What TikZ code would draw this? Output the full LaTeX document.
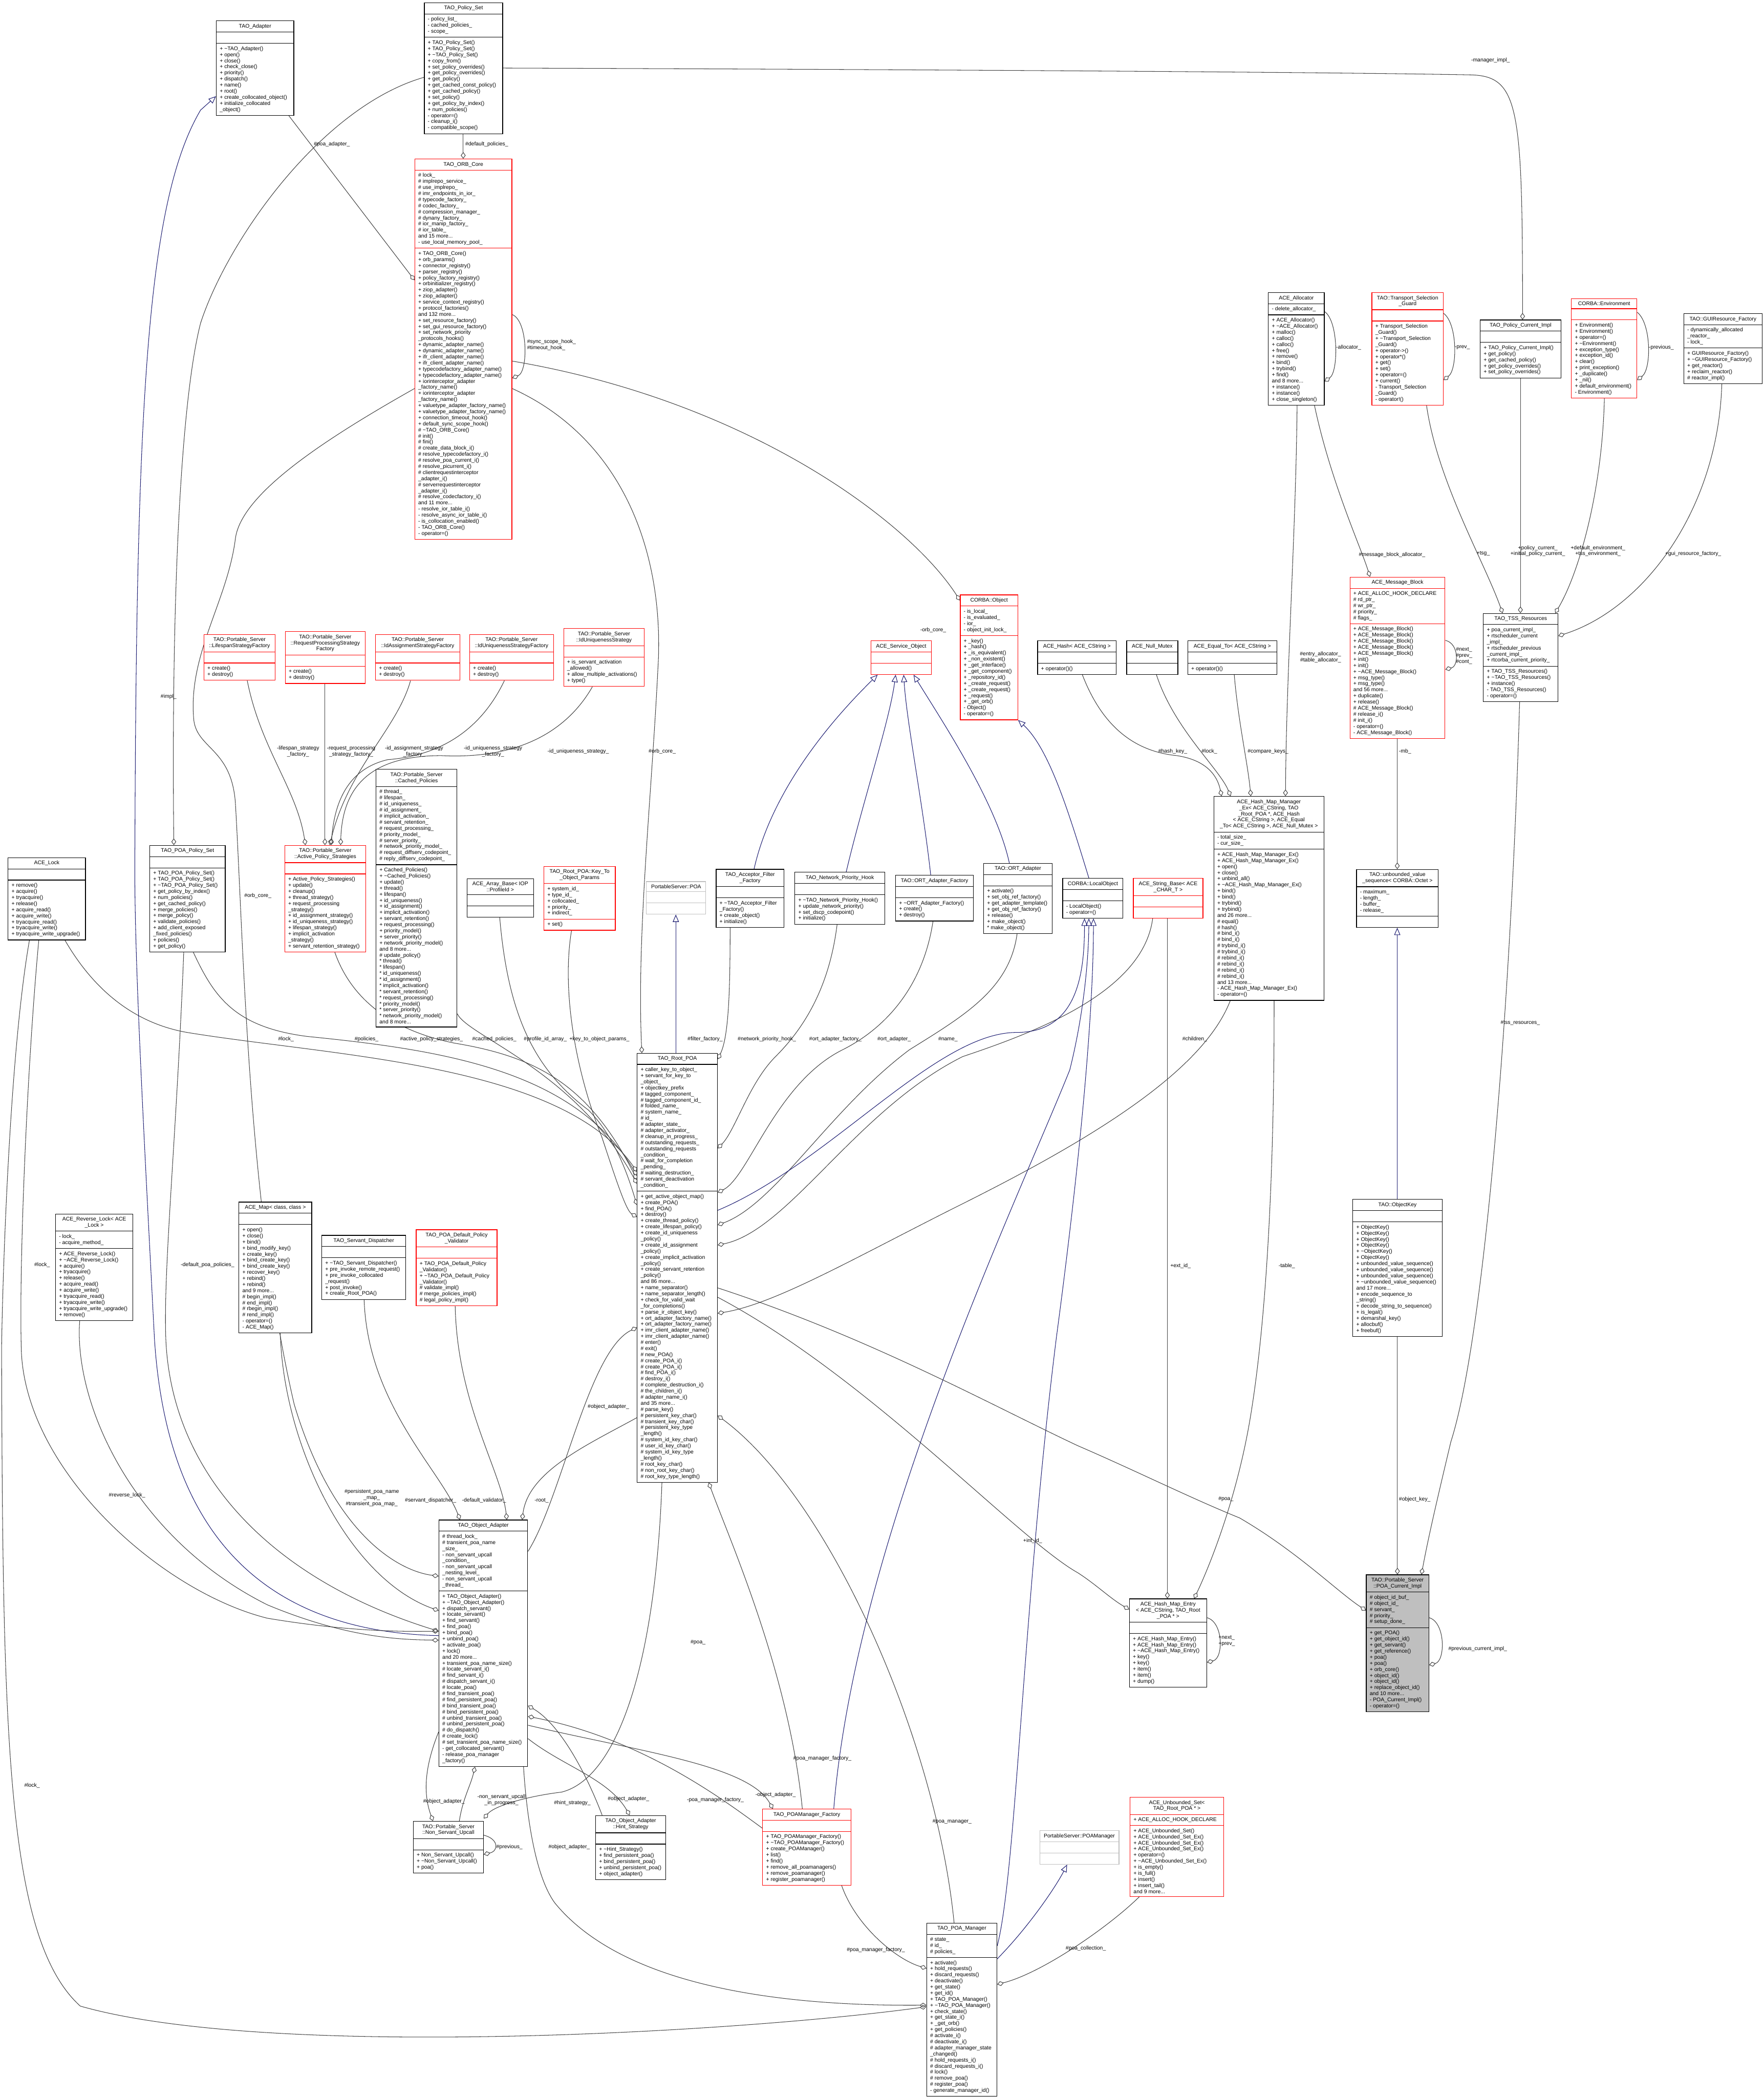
\documentclass[tikz,border=0pt]{standalone}
\usepackage{fontspec}
\setmainfont{Liberation Sans}
\usetikzlibrary{shapes.multipart,arrows.meta,calc}
\definecolor{edgec}{HTML}{404040}
\definecolor{inhc}{HTML}{191970}
\definecolor{redc}{HTML}{FF0000}
\definecolor{greyb}{HTML}{BFBFBF}
\pgfdeclarelayer{bg}
\pgfsetlayers{bg,main}
\newcommand\ez{\rule[-0.84pt]{0pt}{3.76pt}}
\newcommand\tld{\textasciitilde}
\newcommand\ttl[1]{\vbox{\halign{\hfil##\hfil\cr#1\crcr}}}
\tikzset{
  cls/.style={rectangle split, rectangle split parts=3, draw=black, line width=0.45pt, fill=white,
    inner xsep=2.6pt, inner ysep=2.1pt, anchor=north west,
    rectangle split part align={center,left,left}, align=left,
    font=\fontsize{4}{4.55}\selectfont},
  rcls/.style={cls, draw=redc},
  gcls/.style={cls, draw=greyb},
  comp/.style={draw=edgec, line width=0.4pt, -{Diamond[open,length=5pt,width=3.6pt]}},
  inh/.style={draw=inhc, line width=0.4pt, -{Triangle[open,length=5.5pt,width=4.6pt]}},
  lbl/.style={font=\fontsize{4}{4.55}\selectfont, inner sep=0pt, anchor=west, align=left},
  lblc/.style={lbl, anchor=center, align=center},
}
\begin{document}
\catcode`\_=12
\begin{tikzpicture}[x=1pt,y=-1pt]
\begin{pgfonlayer}{bg}
\fill[white] (0,0) rectangle (1319,1568);
\end{pgfonlayer}
\useasboundingbox (0,0) rectangle (1319,1568);

% ---------------- classes ----------------
\node[cls, minimum width=58] (ad) at (161.5,15.4) {TAO_Adapter\nodepart{second}\ez\nodepart{third}+ \tld TAO_Adapter()\\+ open()\\+ close()\\+ check_close()\\+ priority()\\+ dispatch()\\+ name()\\+ root()\\+ create_collocated_object()\\+ initialize_collocated\\_object()};

\node[cls, minimum width=58.6] (ps) at (317.1,1.8) {TAO_Policy_Set\nodepart{second}- policy_list_\\- cached_policies_\\- scope_\nodepart{third}+ TAO_Policy_Set()\\+ TAO_Policy_Set()\\+ \tld TAO_Policy_Set()\\+ copy_from()\\+ set_policy_overrides()\\+ get_policy_overrides()\\+ get_policy()\\+ get_cached_const_policy()\\+ get_cached_policy()\\+ set_policy()\\+ get_policy_by_index()\\+ num_policies()\\- operator=()\\- cleanup_i()\\- compatible_scope()};

\node[rcls, minimum width=72.6] (orb) at (310,118.7) {TAO_ORB_Core\nodepart{second}\# lock_\\\# implrepo_service_\\\# use_implrepo_\\\# imr_endpoints_in_ior_\\\# typecode_factory_\\\# codec_factory_\\\# compression_manager_\\\# dynany_factory_\\\# ior_manip_factory_\\\# ior_table_\\and 15 more...\\- use_local_memory_pool_\nodepart{third}+ TAO_ORB_Core()\\+ orb_params()\\+ connector_registry()\\+ parser_registry()\\+ policy_factory_registry()\\+ orbinitializer_registry()\\+ ziop_adapter()\\+ ziop_adapter()\\+ service_context_registry()\\+ protocol_factories()\\and 132 more...\\+ set_resource_factory()\\+ set_gui_resource_factory()\\+ set_network_priority\\_protocols_hooks()\\+ dynamic_adapter_name()\\+ dynamic_adapter_name()\\+ ifr_client_adapter_name()\\+ ifr_client_adapter_name()\\+ typecodefactory_adapter_name()\\+ typecodefactory_adapter_name()\\+ iorinterceptor_adapter\\_factory_name()\\+ iorinterceptor_adapter\\_factory_name()\\+ valuetype_adapter_factory_name()\\+ valuetype_adapter_factory_name()\\+ connection_timeout_hook()\\+ default_sync_scope_hook()\\\# \tld TAO_ORB_Core()\\\# init()\\\# fini()\\\# create_data_block_i()\\\# resolve_typecodefactory_i()\\\# resolve_poa_current_i()\\\# resolve_picurrent_i()\\\# clientrequestinterceptor\\_adapter_i()\\\# serverrequestinterceptor\\_adapter_i()\\\# resolve_codecfactory_i()\\and 11 more...\\- resolve_ior_table_i()\\- resolve_async_ior_table_i()\\- is_collocation_enabled()\\- TAO_ORB_Core()\\- operator=()};

\node[cls, minimum width=41.8] (alloc) at (948.3,218.5) {ACE_Allocator\nodepart{second}- delete_allocator_\nodepart{third}+ ACE_Allocator()\\+ \tld ACE_Allocator()\\+ malloc()\\+ calloc()\\+ calloc()\\+ free()\\+ remove()\\+ bind()\\+ trybind()\\+ find()\\and 8 more...\\+ instance()\\+ instance()\\+ close_singleton()};

\node[rcls, minimum width=53.4] (tsg) at (1025.7,218.5) {\ttl{TAO::Transport_Selection\cr _Guard}\nodepart{second}\ez\nodepart{third}+ Transport_Selection\\_Guard()\\+ \tld Transport_Selection\\_Guard()\\+ operator->()\\+ operator*()\\+ get()\\+ set()\\+ operator=()\\+ current()\\- Transport_Selection\\_Guard()\\- operator!()};

\node[cls, minimum width=60.4] (pci) at (1106.7,239) {TAO_Policy_Current_Impl\nodepart{second}\ez\nodepart{third}+ TAO_Policy_Current_Impl()\\+ get_policy()\\+ get_cached_policy()\\+ get_policy_overrides()\\+ set_policy_overrides()};

\node[rcls, minimum width=49] (env) at (1174.9,223) {CORBA::Environment\nodepart{second}\ez\nodepart{third}+ Environment()\\+ Environment()\\+ operator=()\\+ \tld Environment()\\+ exception_type()\\+ exception_id()\\+ clear()\\+ print_exception()\\+ _duplicate()\\+ _nil()\\+ default_environment()\\- Environment()};

\node[cls, minimum width=58.5] (gui) at (1259,234.3) {TAO::GUIResource_Factory\nodepart{second}- dynamically_allocated\\_reactor_\\- lock_\nodepart{third}+ GUIResource_Factory()\\+ \tld GUIResource_Factory()\\+ get_reactor()\\+ reclaim_reactor()\\\# reactor_impl()};

\node[rcls, minimum width=43] (obj) at (717.9,444.6) {CORBA::Object\nodepart{second}- is_local_\\- is_evaluated_\\- ior_\\- object_init_lock_\nodepart{third}+ _key()\\+ _hash()\\+ _is_equivalent()\\+ _non_existent()\\+ _get_interface()\\+ _get_component()\\+ _repository_id()\\+ _create_request()\\+ _create_request()\\+ _request()\\+ _get_orb()\\- Object()\\- operator=()};

\node[rcls, minimum width=45.4] (svc) at (651,478.9) {ACE_Service_Object\nodepart{second}\ez\nodepart{third}\ez};
\node[cls, minimum width=58.8] (hash) at (775.7,478.9) {ACE_Hash< ACE_CString >\nodepart{second}\ez\nodepart{third}+ operator()()};
\node[cls, minimum width=38.3] (mutex) at (842.3,478.9) {ACE_Null_Mutex\nodepart{second}\ez\nodepart{third}\ez};
\node[cls, minimum width=66.6] (eq) at (888,478.9) {ACE_Equal_To< ACE_CString >\nodepart{second}\ez\nodepart{third}+ operator()()};

\node[rcls, minimum width=71.1] (mb) at (1009.3,431.3) {ACE_Message_Block\nodepart{second}+ ACE_ALLOC_HOOK_DECLARE\\\# rd_ptr_\\\# wr_ptr_\\\# priority_\\\# flags_\nodepart{third}+ ACE_Message_Block()\\+ ACE_Message_Block()\\+ ACE_Message_Block()\\+ ACE_Message_Block()\\+ ACE_Message_Block()\\+ init()\\+ init()\\+ \tld ACE_Message_Block()\\+ msg_type()\\+ msg_type()\\and 56 more...\\+ duplicate()\\+ release()\\\# ACE_Message_Block()\\\# release_i()\\\# init_i()\\- operator=()\\- ACE_Message_Block()};

\node[cls, minimum width=55.8] (tss) at (1109.1,458.5) {TAO_TSS_Resources\nodepart{second}+ poa_current_impl_\\+ rtscheduler_current\\_impl_\\+ rtscheduler_previous\\_current_impl_\\+ rtcorba_current_priority_\nodepart{third}+ TAO_TSS_Resources()\\+ \tld TAO_TSS_Resources()\\+ instance()\\- TAO_TSS_Resources()\\- operator=()};

\node[rcls, minimum width=53.2] (lsf) at (152.3,474.2) {\ttl{TAO::Portable_Server\cr ::LifespanStrategyFactory}\nodepart{second}\ez\nodepart{third}+ create()\\+ destroy()};
\node[rcls, minimum width=59.8] (rpf) at (213.1,472) {\ttl{TAO::Portable_Server\cr ::RequestProcessingStrategy\cr Factory}\nodepart{second}\ez\nodepart{third}+ create()\\+ destroy()};
\node[rcls, minimum width=63.1] (iaf) at (280.6,474.2) {\ttl{TAO::Portable_Server\cr ::IdAssignmentStrategyFactory}\nodepart{second}\ez\nodepart{third}+ create()\\+ destroy()};
\node[rcls, minimum width=62.8] (iuf) at (350.9,474.2) {\ttl{TAO::Portable_Server\cr ::IdUniquenessStrategyFactory}\nodepart{second}\ez\nodepart{third}+ create()\\+ destroy()};
\node[rcls, minimum width=60.3] (ius) at (421.3,469.7) {\ttl{TAO::Portable_Server\cr ::IdUniquenessStrategy}\nodepart{second}\ez\nodepart{third}+ is_servant_activation\\_allowed()\\+ allow_multiple_activations()\\+ type()};

\node[rcls, minimum width=60.7] (aps) at (212.7,631.9) {\ttl{TAO::Portable_Server\cr ::Active_Policy_Strategies}\nodepart{second}\ez\nodepart{third}+ Active_Policy_Strategies()\\+ update()\\+ cleanup()\\+ thread_strategy()\\+ request_processing\\_strategy()\\+ id_assignment_strategy()\\+ id_uniqueness_strategy()\\+ lifespan_strategy()\\+ implicit_activation\\_strategy()\\+ servant_retention_strategy()};

\node[cls, minimum width=60.5] (cp) at (281,575) {\ttl{TAO::Portable_Server\cr ::Cached_Policies}\nodepart{second}\# thread_\\\# lifespan_\\\# id_uniqueness_\\\# id_assignment_\\\# implicit_activation_\\\# servant_retention_\\\# request_processing_\\\# priority_model_\\\# server_priority_\\\# network_priority_model_\\\# request_diffserv_codepoint_\\\# reply_diffserv_codepoint_\nodepart{third}+ Cached_Policies()\\+ \tld Cached_Policies()\\+ update()\\+ thread()\\+ lifespan()\\+ id_uniqueness()\\+ id_assignment()\\+ implicit_activation()\\+ servant_retention()\\+ request_processing()\\+ priority_model()\\+ server_priority()\\+ network_priority_model()\\and 8 more...\\\# update_policy()\\* thread()\\* lifespan()\\* id_uniqueness()\\* id_assignment()\\* implicit_activation()\\* servant_retention()\\* request_processing()\\* priority_model()\\* server_priority()\\* network_priority_model()\\and 8 more...};

\node[cls, minimum width=49.6] (arr) at (349.1,656.8) {\ttl{ACE_Array_Base< IOP\cr ::ProfileId >}\nodepart{second}\ez\nodepart{third}\ez};
\node[rcls, minimum width=53.4] (kto) at (406.5,647.6) {\ttl{TAO_Root_POA::Key_To\cr _Object_Params}\nodepart{second}+ system_id_\\+ type_id_\\+ collocated_\\+ priority_\\+ indirect_\nodepart{third}+ set()};

\node[cls, minimum width=56.4] (pps) at (111.8,631.9) {TAO_POA_Policy_Set\nodepart{second}\ez\nodepart{third}+ TAO_POA_Policy_Set()\\+ TAO_POA_Policy_Set()\\+ \tld TAO_POA_Policy_Set()\\+ get_policy_by_index()\\+ num_policies()\\+ get_cached_policy()\\+ merge_policies()\\+ merge_policy()\\+ validate_policies()\\+ add_client_exposed\\_fixed_policies()\\+ policies()\\+ get_policy()};

\node[cls, minimum width=57.9] (lock) at (5.8,641.1) {ACE_Lock\nodepart{second}\ez\nodepart{third}+ remove()\\+ acquire()\\+ tryacquire()\\+ release()\\+ acquire_read()\\+ acquire_write()\\+ tryacquire_read()\\+ tryacquire_write()\\+ tryacquire_write_upgrade()};

\node[gcls, minimum width=44.4] (poa) at (483.2,659) {PortableServer::POA\nodepart{second}\ez\nodepart{third}\ez};
\node[cls, minimum width=50.8] (aff) at (535.3,649.8) {\ttl{TAO_Acceptor_Filter\cr _Factory}\nodepart{second}\ez\nodepart{third}+ \tld TAO_Acceptor_Filter\\_Factory()\\+ create_object()\\+ initialize()};
\node[cls, minimum width=67.2] (nph) at (594.2,652) {TAO_Network_Priority_Hook\nodepart{second}\ez\nodepart{third}+ \tld TAO_Network_Priority_Hook()\\+ update_network_priority()\\+ set_dscp_codepoint()\\+ initialize()};
\node[cls, minimum width=58.2] (oaf) at (669.5,654.2) {TAO::ORT_Adapter_Factory\nodepart{second}\ez\nodepart{third}+ \tld ORT_Adapter_Factory()\\+ create()\\+ destroy()};
\node[cls, minimum width=51.1] (ort) at (735.4,645.3) {TAO::ORT_Adapter\nodepart{second}\ez\nodepart{third}+ activate()\\+ set_obj_ref_factory()\\+ get_adapter_template()\\+ get_obj_ref_factory()\\+ release()\\+ make_object()\\* make_object()};
\node[cls, minimum width=45.1] (lo) at (794.5,656.6) {CORBA::LocalObject\nodepart{second}\ez\nodepart{third}- LocalObject()\\- operator=()};
\node[rcls, minimum width=52.1] (sb) at (847.3,656.6) {\ttl{ACE_String_Base< ACE\cr _CHAR_T >}\nodepart{second}\ez\nodepart{third}\ez};

\node[cls, minimum width=82.3] (hmm) at (907.5,595.3) {\ttl{ACE_Hash_Map_Manager\cr _Ex< ACE_CString, TAO\cr _Root_POA *, ACE_Hash\cr < ACE_CString >, ACE_Equal\cr _To< ACE_CString >, ACE_Null_Mutex >}\nodepart{second}- total_size_\\- cur_size_\nodepart{third}+ ACE_Hash_Map_Manager_Ex()\\+ ACE_Hash_Map_Manager_Ex()\\+ open()\\+ close()\\+ unbind_all()\\+ \tld ACE_Hash_Map_Manager_Ex()\\+ bind()\\+ bind()\\+ trybind()\\+ trybind()\\and 26 more...\\\# equal()\\\# hash()\\\# bind_i()\\\# bind_i()\\\# trybind_i()\\\# trybind_i()\\\# rebind_i()\\\# rebind_i()\\\# rebind_i()\\\# rebind_i()\\and 13 more...\\- ACE_Hash_Map_Manager_Ex()\\- operator=()};

\node[cls, minimum width=61.2] (uvs) at (1014.2,649.9) {\ttl{TAO::unbounded_value\cr _sequence< CORBA::Octet >}\nodepart{second}- maximum_\\- length_\\- buffer_\\- release_\nodepart{third}\ez};

\node[cls, minimum width=60] (rp) at (476.3,787.4) {TAO_Root_POA\nodepart{second}+ caller_key_to_object_\\+ servant_for_key_to\\_object_\\+ objectkey_prefix\\\# tagged_component_\\\# tagged_component_id_\\\# folded_name_\\\# system_name_\\\# id_\\\# adapter_state_\\\# adapter_activator_\\\# cleanup_in_progress_\\\# outstanding_requests_\\\# outstanding_requests\\_condition_\\\# wait_for_completion\\_pending_\\\# waiting_destruction_\\\# servant_deactivation\\_condition_\nodepart{third}+ get_active_object_map()\\+ create_POA()\\+ find_POA()\\+ destroy()\\+ create_thread_policy()\\+ create_lifespan_policy()\\+ create_id_uniqueness\\_policy()\\+ create_id_assignment\\_policy()\\+ create_implicit_activation\\_policy()\\+ create_servant_retention\\_policy()\\and 86 more...\\+ name_separator()\\+ name_separator_length()\\+ check_for_valid_wait\\_for_completions()\\+ parse_ir_object_key()\\+ ort_adapter_factory_name()\\+ ort_adapter_factory_name()\\+ imr_client_adapter_name()\\+ imr_client_adapter_name()\\\# enter()\\\# exit()\\\# new_POA()\\\# create_POA_i()\\\# create_POA_i()\\\# find_POA_i()\\\# destroy_i()\\\# complete_destruction_i()\\\# the_children_i()\\\# adapter_name_i()\\and 35 more...\\\# parse_key()\\\# persistent_key_char()\\\# transient_key_char()\\\# persistent_key_type\\_length()\\\# system_id_key_char()\\\# user_id_key_char()\\\# system_id_key_type\\_length()\\\# root_key_char()\\\# non_root_key_char()\\\# root_key_type_length()};

\node[cls, minimum width=57.9] (rl) at (41.3,907.5) {\ttl{ACE_Reverse_Lock< ACE\cr _Lock >}\nodepart{second}- lock_\\- acquire_method_\nodepart{third}+ ACE_Reverse_Lock()\\+ \tld ACE_Reverse_Lock()\\+ acquire()\\+ tryacquire()\\+ release()\\+ acquire_read()\\+ acquire_write()\\+ tryacquire_read()\\+ tryacquire_write()\\+ tryacquire_write_upgrade()\\+ remove()};

\node[cls, minimum width=54.4] (map) at (178.5,898.6) {ACE_Map< class, class >\nodepart{second}\ez\nodepart{third}+ open()\\+ close()\\+ bind()\\+ bind_modify_key()\\+ create_key()\\+ bind_create_key()\\+ bind_create_key()\\+ recover_key()\\+ rebind()\\+ rebind()\\and 9 more...\\\# begin_impl()\\\# end_impl()\\\# rbegin_impl()\\\# rend_impl()\\- operator=()\\- ACE_Map()};

\node[cls, minimum width=62.8] (sd) at (240.4,923.5) {TAO_Servant_Dispatcher\nodepart{second}\ez\nodepart{third}+ \tld TAO_Servant_Dispatcher()\\+ pre_invoke_remote_request()\\+ pre_invoke_collocated\\_request()\\+ post_invoke()\\+ create_Root_POA()};

\node[rcls, minimum width=60.5] (pv) at (311,919.3) {\ttl{TAO_POA_Default_Policy\cr _Validator}\nodepart{second}\ez\nodepart{third}+ TAO_POA_Default_Policy\\_Validator()\\+ \tld TAO_POA_Default_Policy\\_Validator()\\\# validate_impl()\\\# merge_policies_impl()\\\# legal_policy_impl()};

\node[cls, minimum width=66.7] (ok) at (1011.5,896.6) {TAO::ObjectKey\nodepart{second}\ez\nodepart{third}+ ObjectKey()\\+ ObjectKey()\\+ ObjectKey()\\+ ObjectKey()\\+ \tld ObjectKey()\\+ ObjectKey()\\+ unbounded_value_sequence()\\+ unbounded_value_sequence()\\+ unbounded_value_sequence()\\+ \tld unbounded_value_sequence()\\and 17 more...\\+ encode_sequence_to\\_string()\\+ decode_string_to_sequence()\\+ is_legal()\\+ demarshal_key()\\+ allocbuf()\\+ freebuf()};

\node[cls, minimum width=66.4] (oa) at (328,1136.3) {TAO_Object_Adapter\nodepart{second}\# thread_lock_\\\# transient_poa_name\\_size_\\- non_servant_upcall\\_condition_\\- non_servant_upcall\\_nesting_level_\\- non_servant_upcall\\_thread_\nodepart{third}+ TAO_Object_Adapter()\\+ \tld TAO_Object_Adapter()\\+ dispatch_servant()\\+ locate_servant()\\+ find_servant()\\+ find_poa()\\+ bind_poa()\\+ unbind_poa()\\+ activate_poa()\\+ lock()\\and 20 more...\\+ transient_poa_name_size()\\\# locate_servant_i()\\\# find_servant_i()\\\# dispatch_servant_i()\\\# locate_poa()\\\# find_transient_poa()\\\# find_persistent_poa()\\\# bind_transient_poa()\\\# bind_persistent_poa()\\\# unbind_transient_poa()\\\# unbind_persistent_poa()\\\# do_dispatch()\\\# create_lock()\\\# set_transient_poa_name_size()\\- get_collocated_servant()\\- release_poa_manager\\_factory()};

\node[cls, minimum width=57.8] (hme) at (844.4,1195.3) {\ttl{ACE_Hash_Map_Entry\cr < ACE_CString, TAO_Root\cr _POA * >}\nodepart{second}\ez\nodepart{third}+ ACE_Hash_Map_Entry()\\+ ACE_Hash_Map_Entry()\\+ \tld ACE_Hash_Map_Entry()\\+ key()\\+ key()\\+ item()\\+ item()\\+ dump()};

\node[cls, fill=greyb, minimum width=46.8] (cur) at (1021.5,1177.3) {\ttl{TAO::Portable_Server\cr ::POA_Current_Impl}\nodepart{second}\# object_id_buf_\\\# object_id_\\\# servant_\\\# priority_\\\# setup_done_\nodepart{third}+ get_POA()\\+ get_object_id()\\+ get_servant()\\+ get_reference()\\+ poa()\\+ poa()\\+ orb_core()\\+ object_id()\\+ object_id()\\+ replace_object_id()\\and 10 more...\\- POA_Current_Impl()\\- operator=()};

\node[cls, minimum width=52.5] (nsu) at (308.8,1361.6) {\ttl{TAO::Portable_Server\cr ::Non_Servant_Upcall}\nodepart{second}\ez\nodepart{third}+ Non_Servant_Upcall()\\+ \tld Non_Servant_Upcall()\\+ poa()};
\node[cls, minimum width=52.5] (hs) at (445.2,1357.3) {\ttl{TAO_Object_Adapter\cr ::Hint_Strategy}\nodepart{second}\ez\nodepart{third}+ \tld Hint_Strategy()\\+ find_persistent_poa()\\+ bind_persistent_poa()\\+ unbind_persistent_poa()\\+ object_adapter()};
\node[rcls, minimum width=66] (pmf) at (570.1,1352.5) {TAO_POAManager_Factory\nodepart{second}\ez\nodepart{third}+ TAO_POAManager_Factory()\\+ \tld TAO_POAManager_Factory()\\+ create_POAManager()\\+ list()\\+ find()\\+ remove_all_poamanagers()\\+ remove_poamanager()\\+ register_poamanager()};
\node[gcls, minimum width=59.3] (psm) at (777.3,1368.6) {PortableServer::POAManager\nodepart{second}\ez\nodepart{third}\ez};
\node[rcls, minimum width=70] (us) at (844.9,1343.6) {\ttl{ACE_Unbounded_Set<\cr TAO_Root_POA * >}\nodepart{second}+ ACE_ALLOC_HOOK_DECLARE\nodepart{third}+ ACE_Unbounded_Set()\\+ ACE_Unbounded_Set_Ex()\\+ ACE_Unbounded_Set_Ex()\\+ ACE_Unbounded_Set_Ex()\\+ operator=()\\+ \tld ACE_Unbounded_Set_Ex()\\+ is_empty()\\+ is_full()\\+ insert()\\+ insert_tail()\\and 9 more...};
\node[cls, minimum width=52.5] (pm) at (692.8,1437.8) {TAO_POA_Manager\nodepart{second}\# state_\\\# id_\\\# policies_\nodepart{third}+ activate()\\+ hold_requests()\\+ discard_requests()\\+ deactivate()\\+ get_state()\\+ get_id()\\+ TAO_POA_Manager()\\+ \tld TAO_POA_Manager()\\+ check_state()\\+ get_state_i()\\+ _get_orb()\\+ get_policies()\\\# activate_i()\\\# deactivate_i()\\\# adapter_manager_state\\_changed()\\\# hold_requests_i()\\\# discard_requests_i()\\\# lock()\\\# remove_poa()\\\# register_poa()\\- generate_manager_id()};

% ---------------- connectors ----------------
\begin{pgfonlayer}{bg}
% top area
\draw[comp] (ad.south -| 216,0) -- (orb.west |- 0,209.5);
\draw[comp] (ps.south -| 346.4,0) -- (orb.north -| 346.4,0);
\draw[comp] (ps.east |- 0,50.9) .. controls (700,52) and (1000,54) .. (1100,56) .. controls (1136,57) and (1138.6,80) .. (pci.north -| 1138.6,0);
\draw[comp] (ps.west |- 0,57.8) .. controls (240,80) and (170,180) .. (150,241.6) .. controls (135,300) and (128,450) .. (pps.north -| 130,0);
\draw[comp] (orb.east |- 0,235.2) .. controls (395,240) and (395,278) .. (orb.east |- 0,282.7);
\draw[comp] (orb.east |- 0,270) .. controls (560,300) and (680,390) .. (obj.west |- 0,449);
\draw[comp] (orb.east |- 0,290.5) .. controls (470,330) and (497,420) .. (492,500) .. controls (487,600) and (476,700) .. (rp.north -| 480,0);
\draw[comp] (orb.west |- 0,290.5) .. controls (240,330) and (180,370) .. (176,403) .. controls (170,450) and (140,490) .. (145,539) .. controls (148,560) and (173,560) .. (176,600) .. controls (182,700) and (185,900) .. (220,1050) .. controls (250,1150) and (300,1175) .. (oa.west |- 0,1178.5);
% factories -> active policy strategies
\draw[comp] (lsf.south -| 184.9,0) .. controls (195,560) and (222,590) .. (aps.north -| 228.4,0);
\draw[comp] (rpf.south -| 243,0) -- (aps.north -| 243,0);
\draw[comp] (iaf.south -| 307,0) .. controls (297,545) and (260,575) .. (aps.north -| 246.6,0);
\draw[comp] (iuf.south -| 377.2,0) .. controls (360,545) and (330,565) .. (290,568) .. controls (260,575) and (250,600) .. (aps.north -| 247.7,0);
\draw[comp] (ius.south -| 443,0) .. controls (425,545) and (390,568) .. (330,565) .. controls (275,565) and (256,590) .. (aps.north -| 254.7,0);
% bundle into Root POA (left)
\draw[comp] (lock.south -| 48.6,0) .. controls (70,740) and (100,765) .. (140,772) .. controls (250,790) and (420,795) .. (rp.west |- 0,876);
\draw[comp] (pps.south -| 144.6,0) .. controls (160,745) and (175,768) .. (230,775) .. controls (330,785) and (430,800) .. (rp.west |- 0,879);
\draw[comp] (aps.south -| 250.4,0) .. controls (262,745) and (290,770) .. (340,780) .. controls (400,790) and (440,810) .. (rp.west |- 0,882);
\draw[comp] (cp.east |- 0,758) .. controls (350,775) and (430,800) .. (rp.west |- 0,885);
\draw[comp] (arr.south -| 373.7,0) .. controls (380,760) and (400,800) .. (440,830) .. controls (460,850) and (470,880) .. (rp.west |- 0,901);
\draw[comp] (kto.south -| 427.4,0) .. controls (420,740) and (430,800) .. (450,850) .. controls (460,880) and (468,905) .. (rp.west |- 0,910);
\draw[inh] (rp.north -| 505.4,0) -- (poa.south -| 505.4,0);
% right side into Root POA
\draw[comp] (aff.south -| 546,0) .. controls (546,740) and (545,775) .. (rp.east |- 0,792);
\draw[comp] (nph.south -| 626,0) .. controls (620,740) and (600,770) .. (580,790) .. controls (560,810) and (550,845) .. (rp.east |- 0,858.7);
\draw[comp] (oaf.south -| 697.7,0) .. controls (690,740) and (660,770) .. (630,785) .. controls (580,810) and (560,880) .. (rp.east |- 0,891.7);
\draw[comp] (ort.south -| 760.6,0) .. controls (755,740) and (720,760) .. (680,785) .. controls (620,830) and (580,900) .. (rp.east |- 0,916);
\draw[comp] (sb.south -| 862,0) .. controls (855,740) and (780,770) .. (720,790) .. controls (640,830) and (590,920) .. (rp.east |- 0,931);
\draw[comp] (hmm.south -| 920,0) .. controls (900,800) and (820,850) .. (720,900) .. controls (640,940) and (580,975) .. (rp.east |- 0,982);
% LocalObject inheritance
\draw[inh] (rp.east |- 0,905) .. controls (620,870) and (700,772) .. (760,772) .. controls (805,772) and (811,730) .. (lo.south -| 811,0);
\draw[inh] (pmf.north -| 623.5,0) .. controls (640,1150) and (760,900) .. (800,800) .. controls (810,760) and (814,720) .. (lo.south -| 814.3,0);
\draw[inh] (pm.east |- 0,1455) .. controls (760,1400) and (765,1200) .. (790,1000) .. controls (810,850) and (817.7,750) .. (lo.south -| 817.7,0);
\draw[inh] (pm.east |- 0,1464.7) .. controls (770,1440) and (790,1410) .. (psm.south -| 798,0);
\draw[inh] (lo.north -| 814.3,0) .. controls (800,610) and (785,560) .. (obj.south east);
% service object
\draw[inh] (aff.north -| 563.9,0) .. controls (575,600) and (610,550) .. (svc.south -| 656.3,0);
\draw[inh] (nph.north -| 632.8,0) .. controls (645,600) and (665,540) .. (svc.south -| 669.8,0);
\draw[inh] (oaf.north -| 696,0) .. controls (690,600) and (678,540) .. (svc.south -| 675.8,0);
\draw[inh] (ort.north -| 754.8,0) .. controls (745,600) and (705,540) .. (svc.south -| 683.2,0);
% right top cluster
\draw[comp] (alloc.south -| 983,0) .. controls (995,360) and (1018,410) .. (mb.north -| 1024.5,0);
\draw[comp] (alloc.south -| 970,0) .. controls (969,400) and (962,500) .. (hmm.north -| 961.3,0);
\draw[comp] (hash.south -| 809.4,0) .. controls (825,545) and (850,562) .. (880,565) .. controls (900,568) and (910,578) .. (hmm.north -| 913.5,0);
\draw[comp] (mutex.south -| 864.8,0) .. controls (878,545) and (912,575) .. (hmm.north -| 920.3,0);
\draw[comp] (eq.south -| 923,0) .. controls (926,540) and (933,570) .. (hmm.north -| 935.4,0);
\draw[comp] (tsg.south -| 1066.8,0) .. controls (1075,360) and (1110,420) .. (tss.north -| 1123.7,0);
\draw[comp] (pci.south -| 1137,0) -- (tss.north -| 1137,0);
\draw[comp] (env.south -| 1199.8,0) .. controls (1198,370) and (1180,430) .. (tss.north -| 1163,0);
\draw[comp] (gui.south -| 1287.6,0) .. controls (1285,380) and (1230,455) .. (tss.east |- 0,475.5);
\draw[comp] (alloc.east |- 0,233) .. controls (1001,240) and (1001,278) .. (alloc.east |- 0,285.2);
\draw[comp] (tsg.east |- 0,234.3) .. controls (1090,242) and (1090,276) .. (tsg.east |- 0,284.2);
\draw[comp] (env.east |- 0,233.5) .. controls (1235,242) and (1235,276) .. (env.east |- 0,284.2);
\draw[comp] (mb.east |- 0,478.8) .. controls (1091,481) and (1091,498) .. (mb.east |- 0,500.6);
\draw[comp] (mb.south -| 1044.9,0) -- (uvs.north -| 1044.9,0);
\draw[inh] (ok.north -| 1044.9,0) -- (uvs.south -| 1044.9,0);
\draw[comp] (ok.south -| 1045,0) -- (cur.north -| 1045,0);
\draw[comp] (tss.south -| 1136.4,0) .. controls (1130,750) and (1110,1000) .. (1085,1078) .. controls (1075,1120) and (1068,1150) .. (cur.north -| 1063,0);
\draw[comp] (cur.east |- 0,1209.6) .. controls (1081,1213) and (1081,1242) .. (cur.east |- 0,1245);
% hash map entry
\draw[comp] (sb.south -| 873,0) -- (hme.north -| 873,0);
\draw[comp] (hmm.south -| 952.8,0) .. controls (953,900) and (945,1000) .. (935,1060) .. controls (925,1120) and (905,1170) .. (hme.north -| 893,0);
\draw[comp] (rp.east |- 0,970) .. controls (650,1030) and (760,1150) .. (806,1176) .. controls (820,1185) and (830,1195) .. (hme.west |- 0,1203.4);
\draw[comp] (rp.east |- 0,963) .. controls (650,1000) and (740,1050) .. (806,1081) .. controls (850,1100) and (890,1120) .. (927,1135) .. controls (970,1160) and (1000,1190) .. (cur.west |- 0,1204.2);
\draw[comp] (hme.east |- 0,1209.6) .. controls (915,1213) and (915,1240) .. (hme.east |- 0,1243);
% object adapter
\draw[inh] (oa.west |- 0,1223) .. controls (200,1220) and (125,1150) .. (115.5,1001) .. controls (105,800) and (100,700) .. (100.9,632) .. controls (102,300) and (110,150) .. (150,82.3) -- (ad.west |- 0,72);
\draw[comp] (lock.south -| 29,0) .. controls (20,800) and (14,950) .. (16,1011) .. controls (20,1100) and (120,1190) .. (200,1210) .. controls (260,1220) and (300,1220) .. (oa.west |- 0,1219.7);
\draw[comp] (rl.south -| 59.6,0) .. controls (55,1050) and (100,1150) .. (200,1200) .. controls (260,1225) and (300,1226) .. (oa.west |- 0,1226.4);
\draw[comp] (pps.south -| 137.4,0) .. controls (132,850) and (122,950) .. (124,1001) .. controls (128,1100) and (200,1180) .. (oa.west |- 0,1219.7);
\draw[comp] (map.south -| 209.6,0) .. controls (212,1080) and (260,1180) .. (oa.west |- 0,1204.3);
\draw[comp] (sd.south -| 272.3,0) .. controls (275,1050) and (330,1100) .. (oa.north -| 344,0);
\draw[comp] (pv.south -| 340.4,0) .. controls (342,1050) and (375,1100) .. (oa.north -| 379,0);
\draw[comp] (rp.west |- 0,1060) .. controls (440,1080) and (395,1100) .. (oa.north -| 390.5,0);
\draw[comp] (oa.east |- 0,1160) .. controls (420,1120) and (440,1010) .. (rp.west |- 0,992.6);
\draw[comp] (nsu.north -| 343.5,0) .. controls (346,1345) and (352,1335) .. (oa.south -| 355.2,0);
\draw[comp] (oa.west |- 0,1295) .. controls (318,1320) and (316,1340) .. (nsu.north -| 323.8,0);
\draw[comp] (rp.south -| 495,0) .. controls (490,1250) and (460,1330) .. (420,1340) .. controls (395,1343) and (370,1350) .. (nsu.east |- 0,1359.8);
\draw[comp] (nsu.east |- 0,1372.2) .. controls (373,1375) and (373,1384) .. (nsu.east |- 0,1386.6);
\draw[comp] (oa.east |- 0,1300) .. controls (420,1320) and (455,1330) .. (hs.north -| 470.9,0);
\draw[comp] (hs.north -| 450.3,0) .. controls (440,1330) and (420,1290) .. (oa.east |- 0,1275.4);
\draw[comp] (pmf.west |- 0,1367) .. controls (540,1345) and (480,1300) .. (oa.east |- 0,1283.4);
\draw[comp] (oa.east |- 0,1290) .. controls (480,1310) and (560,1320) .. (pmf.north -| 578,0);
\draw[comp] (oa.south -| 391.5,0) .. controls (393,1345) and (398,1400) .. (415,1423) .. controls (470,1490) and (600,1500) .. (pm.west |- 0,1499.3);
\draw[comp] (lock.south -| 22,0) .. controls (5,800) and (1,1000) .. (1.2,1011) .. controls (2,1300) and (5,1450) .. (60,1500) .. controls (200,1540) and (550,1520) .. (pm.west |- 0,1500.5);
\draw[comp] (pmf.south -| 629.4,0) .. controls (640,1440) and (670,1465) .. (pm.west |- 0,1471.8);
\draw[comp] (us.south -| 852,0) .. controls (830,1440) and (780,1475) .. (pm.east |- 0,1483.8);
\draw[comp] (pm.north -| 713.5,0) .. controls (700,1300) and (620,1120) .. (rp.east |- 0,1058.5);
\draw[comp] (pmf.north -| 600,0) .. controls (590,1250) and (545,1150) .. (rp.south -| 530,0);
\end{pgfonlayer}

% ---------------- labels ----------------
\node[lbl] at (234.5,108) {\#poa_adapter_};
\node[lbl] at (347.8,108) {\#default_policies_};
\node[lbl] at (1100,45) {-manager_impl_};
\node[lbl] at (120,521) {\#impl_};
\node[lbl] at (394,258) {\#sync_scope_hook_\\\#timeout_hook_};
\node[lbl] at (688,471) {-orb_core_};
\node[lbl] at (484.9,562) {\#orb_core_};
\node[lbl] at (182.5,670) {\#orb_core_};
\node[lblc] at (222.9,562) {-lifespan_strategy\\_factory_};
\node[lblc] at (262.6,562) {-request_processing\\_strategy_factory_};
\node[lblc] at (309.7,562) {-id_assignment_strategy\\_factory_};
\node[lblc] at (368.7,562) {-id_uniqueness_strategy\\_factory_};
\node[lblc] at (432.4,562) {-id_uniqueness_strategy_};
\node[lbl] at (207.9,777) {\#lock_};
\node[lbl] at (265,777) {\#policies_};
\node[lbl] at (299,777) {\#active_policy_strategies_};
\node[lbl] at (353,777) {\#cached_policies_};
\node[lbl] at (391.6,777) {\#profile_id_array_};
\node[lbl] at (425.6,777) {+key_to_object_params_};
\node[lbl] at (514,777) {\#filter_factory_};
\node[lbl] at (551.5,777) {\#network_priority_hook_};
\node[lbl] at (605,777) {\#ort_adapter_factory_};
\node[lbl] at (656,777) {\#ort_adapter_};
\node[lbl] at (701.5,777) {\#name_};
\node[lbl] at (884,777) {\#children_};
\node[lbl] at (866,562) {\#hash_key_};
\node[lbl] at (898.4,562) {\#lock_};
\node[lbl] at (932.8,562) {\#compare_keys_};
\node[lbl, anchor=east, align=right] at (1003,491.5) {\#entry_allocator_\\\#table_allocator_};
\node[lbl] at (1016,415) {\#message_block_allocator_};
\node[lbl] at (999,259.8) {-allocator_};
\node[lbl] at (1087.7,259.8) {-prev_};
\node[lbl] at (1232.8,259.8) {-previous_};
\node[lbl] at (1088.6,490.3) {\#next_\\\#prev_\\\#cont_};
\node[lbl] at (1104,414) {+tsg_};
\node[lblc] at (1150,412) {+policy_current_\\+initial_policy_current_};
\node[lblc] at (1195,412) {+default_environment_\\+tss_environment_};
\node[lbl] at (1245,414) {+gui_resource_factory_};
\node[lbl] at (1046,562) {-mb_};
\node[lbl] at (1122,765) {\#tss_resources_};
\node[lbl] at (1046,1121) {\#object_key_};
\node[lbl] at (875,946.7) {+ext_id_};
\node[lbl] at (956,946.7) {-table_};
\node[lbl] at (911,1121) {\#poa_};
\node[lbl] at (911,1227) {+next_\\+prev_};
\node[lbl] at (1083,1233) {\#previous_current_impl_};
\node[lbl] at (765,1152) {+int_id_};
\node[lblc] at (278,1120) {\#persistent_poa_name\\_map_\\\#transient_poa_map_};
\node[lblc] at (322,1122) {\#servant_dispatcher_};
\node[lblc] at (362,1122) {-default_validator_};
\node[lblc] at (405,1122) {-root_};
\node[lblc] at (455,1052) {\#object_adapter_};
\node[lblc] at (95,1118) {\#reverse_lock_};
\node[lbl] at (25.5,946) {\#lock_};
\node[lbl] at (135,946) {-default_poa_policies_};
\node[lbl] at (371,1381) {\#previous_};
\node[lbl] at (410,1381) {\#object_adapter_};
\node[lbl] at (18,1335) {\#lock_};
\node[lblc] at (332,1347) {\#object_adapter_};
\node[lblc] at (375,1346) {-non_servant_upcall\\_in_progress_};
\node[lblc] at (428,1348) {\#hint_strategy_};
\node[lblc] at (470,1345) {\#object_adapter_};
\node[lblc] at (535,1346) {-poa_manager_factory_};
\node[lblc] at (580,1342) {-object_adapter_};
\node[lblc] at (655,1458) {\#poa_manager_factory_};
\node[lblc] at (812,1457) {\#poa_collection_};
\node[lblc] at (712,1362) {\#poa_manager_};
\node[lblc] at (615,1315) {\#poa_manager_factory_};
\node[lblc] at (522,1228) {\#poa_};
\end{tikzpicture}
\end{document}
